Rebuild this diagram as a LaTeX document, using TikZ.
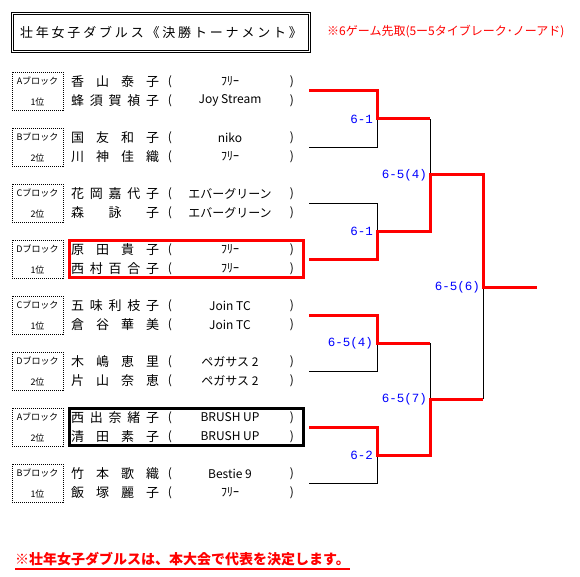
\documentclass[tikz,border=0pt]{standalone}
\usepackage{fontspec}
\setmainfont{Noto Sans CJK JP}
\newfontfamily\monofnt{Liberation Mono}
\newcommand\spreadto[2]{\hbox to #1{\spreadloop#2\relax\unskip}}
\def\spreadloop#1{\ifx\relax#1\else#1\hfil\expandafter\spreadloop\fi}
\tikzset{
  win/.style={red, line width=3pt},
  lose/.style={black, line width=0.8pt},
  score/.style={blue, font=\monofnt\fontsize{12.5}{12.5}\selectfont, anchor=east, inner sep=0pt},
  blocklab/.style={draw, dash pattern=on 1pt off 1pt, line width=0.8pt, minimum width=51pt, minimum height=38pt, inner sep=0pt, align=center, font=\fontsize{9}{21}\selectfont},
  namebox/.style={anchor=west, inner sep=0pt, font=\fontsize{13}{13}\selectfont},
  paren/.style={inner sep=0pt, font=\fontsize{12}{12}\selectfont},
  club/.style={inner sep=0pt, font=\fontsize{12}{12}\selectfont},
  hlbox/.style={line width=3pt, minimum width=234pt, minimum height=37pt, inner sep=0pt}
}
\newcommand\teamgroup[7]{%
  \node[blocklab] (lab#1) at (37.5,{91+56*#1}) {#2\\#3};
  \node[namebox] (na#1) at (71,{81.5+56*#1}) {\spreadto{88pt}{#4}};
  \node[paren] (pla#1) at (170,{81.5+56*#1}) {(};
  \node[club] (ca#1) at (230,{81.5+56*#1}) {#5};
  \node[paren] (pra#1) at (292,{81.5+56*#1}) {)};
  \node[namebox] (nb#1) at (71,{100.5+56*#1}) {\spreadto{88pt}{#6}};
  \node[paren] (plb#1) at (170,{100.5+56*#1}) {(};
  \node[club] (cb#1) at (230,{100.5+56*#1}) {#7};
  \node[paren] (prb#1) at (292,{100.5+56*#1}) {)};
  \coordinate (t#1) at (309,{91+56*#1});
}
\begin{document}
\begin{tikzpicture}[x=1pt,y=-1pt]
\useasboundingbox[fill=white] (0,0) rectangle (580,577);
% title
\node[draw, double, double distance=1.6pt, line width=0.8pt, minimum width=297pt, minimum height=38pt, inner sep=0pt] (titlebox) at (161,32.5) {};
\node[inner sep=0pt, font=\fontsize{13}{13}\selectfont] (title) at (161,32.5) {\spreadto{282pt}{壮年女子ダブルス《決勝トーナメント》}};
\node[anchor=west, inner sep=0pt, red, font=\fontsize{12}{12}\selectfont] (rule) at (327,32) {※6ゲーム先取(5ー5タイブレーク･ノーアド)};
% teams
\teamgroup{0}{Aブロック}{1位}{香山泰子}{ﾌﾘｰ}{蜂須賀禎子}{Joy Stream}
\teamgroup{1}{Bブロック}{2位}{国友和子}{niko}{川神佳織}{ﾌﾘｰ}
\teamgroup{2}{Cブロック}{2位}{花岡嘉代子}{エバーグリーン}{森詠子}{エバーグリーン}
\teamgroup{3}{Dブロック}{1位}{原田貴子}{ﾌﾘｰ}{西村百合子}{ﾌﾘｰ}
\teamgroup{4}{Cブロック}{1位}{五味利枝子}{Join TC}{倉谷華美}{Join TC}
\teamgroup{5}{Dブロック}{2位}{木嶋恵里}{ペガサス 2}{片山奈恵}{ペガサス 2}
\teamgroup{6}{Aブロック}{2位}{西出奈緒子}{BRUSH UP}{清田素子}{BRUSH UP}
\teamgroup{7}{Bブロック}{1位}{竹本歌織}{Bestie 9}{飯塚麗子}{ﾌﾘｰ}
% highlight boxes
\node[hlbox, draw=red] (hl3) at (186.5,258.5) {};
\node[hlbox, draw=black] (hl6) at (186.5,426.5) {};
% bracket junctions
\coordinate (m1) at (377,119);
\coordinate (m2) at (377,231);
\coordinate (m3) at (377,343);
\coordinate (m4) at (377,455);
\coordinate (s1) at (430,175);
\coordinate (s2) at (430,399);
\coordinate (f) at (483,287);
\coordinate (champ) at (537,287);
% losing lines
\draw[lose] (t1) -| (m1);
\draw[lose] (t2) -| (m2);
\draw[lose] (t5) -| (m3);
\draw[lose] (t7) -| (m4);
\draw[lose] (m1 -| s1) -- (s1);
\draw[lose] (m3 -| s2) -- (s2);
\draw[lose] (s2 -| f) -- (f);
% winning lines
\draw[win] (t0) -| (m1) -- (m1 -| s1);
\draw[win] (t3) -| (m2) -- (m2 -| s1) -- (s1) -- (s1 -| f) -- (f) -- (champ);
\draw[win] (t4) -| (m3) -- (m3 -| s2);
\draw[win] (t6) -| (m4) -- (m4 -| s2) -- (s2) -- (s2 -| f);
% scores
\node[score] (sc1) at ([xshift=-4pt]m1) {6-1};
\node[score] (sc2) at ([xshift=-4pt]m2) {6-1};
\node[score] (sc3) at ([xshift=-4pt]m3) {6-5(4)};
\node[score] (sc4) at ([xshift=-4pt]m4) {6-2};
\node[score] (sc5) at ([xshift=-3pt]s1) {6-5(4)};
\node[score] (sc6) at ([xshift=-3pt]s2) {6-5(7)};
\node[score] (sc7) at ([xshift=-3pt]f) {6-5(6)};
% bottom note
\node[anchor=west, inner sep=0pt, red, font=\bfseries\fontsize{14}{14}\selectfont] (note) at (15,559.5) {※壮年女子ダブルスは、本大会で代表を決定します。};
\draw[red, line width=1.5pt] ([yshift=-2.5pt]note.south west) -- ([yshift=-2.5pt]note.south east);
\end{tikzpicture}
\end{document}
